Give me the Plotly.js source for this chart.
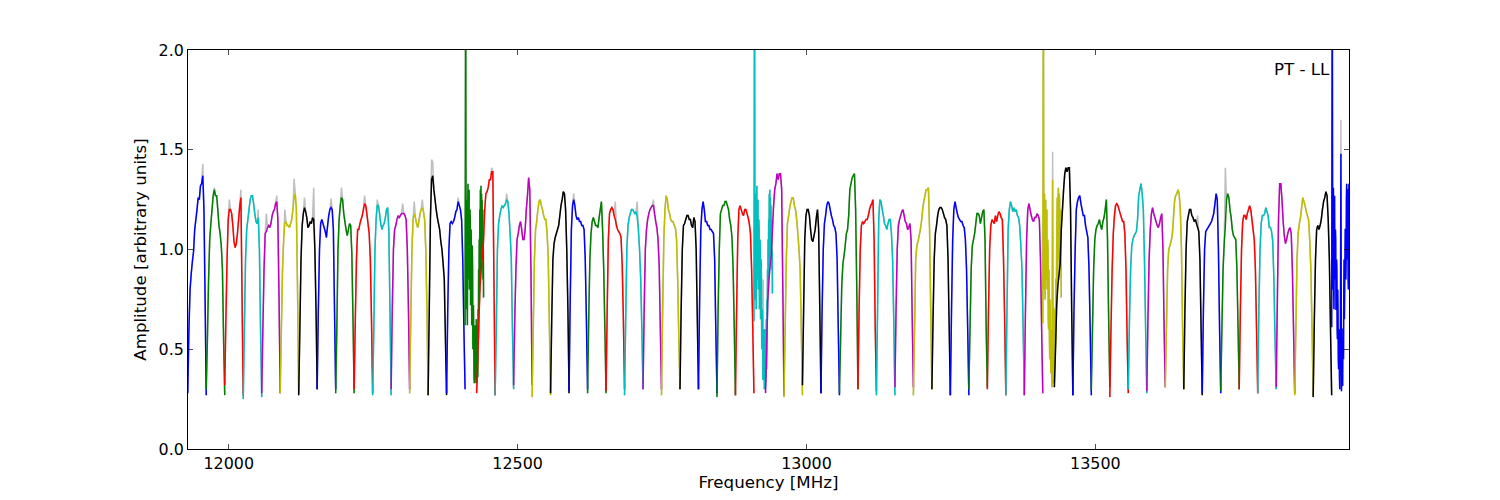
<!DOCTYPE html>
<html><head><meta charset="utf-8">
<script src="https://cdn.plot.ly/plotly-3.0.1.min.js"></script>
<style>html,body{margin:0;padding:0;background:#fff}</style></head>
<body><div id="chart" style="width:1500px;height:500px"></div>
<script>
const channelStarts=[11929,11961,11993,12025,12057,12089,12121,12153,12185,12217,12249,12281,12313,12345,12377,12409,
12429,12461,12493,12525,12557,12589,12621,12653,12685,12717,12749,12781,12813,12845,12877,12909,
12929,12961,12993,13025,13057,13089,13121,13153,13185,13217,13249,13281,13313,13345,13377,13409,
13429,13461,13493,13525,13557,13589,13621,13653,13685,13717,13749,13781,13813,13845,13877,13909];
const normalOffsets=[0,2,4,6,8,10,12,14,16,18,20,22,24,26,28,30,32];
const birdieOffsets=[0,.5,1,1.5,2,2.5,3,3.5,4,4.5,5,5.5,6,6.5,7,7.5,8,8.5,9,9.5,10,10.5,11,11.5,12,12.5,13,13.5,14,14.5,15,15.5,16,16.5,17,17.5,18,18.5,19,19.5,20,20.5,21,21.5,22,22.5,23,23.5,24,24.5,25,25.5,26,26.5,27,27.5,28,28.5,29,29.5,30,30.5,31,31.5,32];
const ch00=[.28,.6,.8,.88,.94,.99,1.1,1.15,1.2,1.26,1.25,1.32,1.33,1.37,1.2,.75,.27];
const ch01=[.3,.55,.85,1.05,1.13,1.2,1.27,1.3,1.27,1.27,1.2,1.12,1.08,1.02,.9,.55,.27];
const ch02=[.32,.65,.95,1.15,1.2,1.2,1.18,1.12,1.04,1.01,1.03,1.08,1.15,1.22,1.26,.75,.27];
const ch03=[.25,.6,.95,1.1,1.15,1.2,1.25,1.27,1.27,1.23,1.18,1.14,1.13,1.16,1.0,.6,.26];
const ch04=[.28,.6,.9,1.08,1.09,1.11,1.12,1.11,1.13,1.17,1.19,1.2,1.23,1.24,1.15,.75,.28];
const ch05=[.28,.6,.9,1.05,1.13,1.14,1.12,1.12,1.11,1.13,1.15,1.2,1.26,1.28,1.2,.8,.28];
const ch06=[.27,.6,.95,1.12,1.18,1.21,1.19,1.16,1.11,1.12,1.14,1.13,1.16,1.15,1.0,.7,.3];
const ch07=[.3,.7,1.0,1.13,1.15,1.13,1.11,1.09,1.06,1.12,1.17,1.2,1.21,1.2,1.1,.7,.3];
const ch08=[.28,.6,1.0,1.15,1.22,1.26,1.25,1.18,1.14,1.1,1.07,1.1,1.13,1.12,.98,.65,.28];
const ch09=[.3,.65,.95,1.1,1.1,1.13,1.15,1.17,1.2,1.23,1.22,1.18,1.13,1.08,.95,.65,.28];
const ch10=[.27,.6,1.0,1.15,1.22,1.22,1.18,1.13,1.1,1.12,1.13,1.16,1.2,1.21,1.1,.7,.27];
const ch11=[.3,.7,1.0,1.1,1.12,1.15,1.17,1.16,1.17,1.18,1.18,1.18,1.17,1.15,1.0,.7,.3];
const ch12=[.28,.65,1.0,1.15,1.18,1.16,1.13,1.11,1.14,1.18,1.2,1.21,1.19,1.15,1.0,.7,.27];
const ch13=[.27,.7,1.15,1.35,1.37,1.3,1.25,1.2,1.16,1.13,1.1,1.04,1.0,.93,.85,.55,.27];
const ch14=[.28,.7,1.0,1.13,1.14,1.13,1.14,1.16,1.19,1.2,1.24,1.22,1.2,1.15,.95,.6,.3];
const ch15=[.62,1.5,2.6,1.4,.7,1.1,1.25,.75,.62,1.2,1.33,.85,.9,1.25,1.3,.8,1.0,1.2,1.15,.72,.85,1.1,1.0,.62,.75,1.02,.9,.5,.6,.72,.55,.36,.33,.6,.4,.62,.35,.58,.33,.65,.33,.55,.35,.62,.36,.7,.55,.9,.75,1.05,.8,1.2,.85,1.3,.9,1.32,.95,1.28,1.0,1.25,.95,1.2,.85,1.05,.76];
const ch16=[.28,.45,.65,.82,.9,.97,1.05,1.2,1.28,1.29,1.31,1.35,1.35,1.39,1.39,.85,.27];
const ch17=[.27,.6,1.0,1.13,1.17,1.2,1.22,1.21,1.22,1.23,1.25,1.24,1.18,1.08,.95,.6,.3];
const ch18=[.32,.65,.9,1.05,1.08,1.12,1.14,1.1,1.05,1.05,1.1,1.2,1.27,1.36,1.3,.9,.32];
const ch19=[.26,.6,.95,1.1,1.14,1.2,1.24,1.25,1.22,1.2,1.17,1.15,1.15,1.08,.95,.6,.27];
const ch20=[.28,.65,.95,1.03,1.06,1.08,1.1,1.12,1.17,1.22,1.25,1.29,1.28,1.2,1.0,.7,.28];
const ch21=[.29,.75,1.1,1.22,1.25,1.22,1.17,1.15,1.16,1.14,1.14,1.12,1.12,1.1,.95,.65,.3];
const ch22=[.28,.65,.95,1.08,1.14,1.16,1.14,1.12,1.12,1.11,1.16,1.2,1.24,1.1,.9,.6,.28];
const ch23=[.29,.7,1.05,1.18,1.2,1.21,1.2,1.17,1.15,1.12,1.1,1.09,1.08,1.06,.92,.65,.3];
const ch24=[.27,.65,1.0,1.12,1.16,1.18,1.2,1.2,1.19,1.18,1.19,1.16,1.1,1.0,.85,.6,.3];
const ch25=[.3,.7,1.0,1.1,1.15,1.18,1.2,1.21,1.22,1.22,1.18,1.14,1.11,1.05,.92,.6,.3];
const ch26=[.27,.7,1.05,1.2,1.27,1.25,1.2,1.18,1.15,1.14,1.14,1.12,1.11,1.05,.85,.55,.3];
const ch27=[.3,.7,1.0,1.12,1.13,1.15,1.17,1.17,1.15,1.15,1.12,1.11,1.16,1.14,1.0,.65,.3];
const ch28=[.3,.75,1.1,1.2,1.24,1.2,1.14,1.14,1.12,1.12,1.1,1.1,1.09,1.08,.95,.6,.28];
const ch29=[.26,.7,1.0,1.18,1.2,1.22,1.22,1.24,1.24,1.22,1.2,1.15,1.12,1.06,.9,.6,.27];
const ch30=[.27,.7,1.05,1.2,1.22,1.2,1.18,1.17,1.2,1.2,1.18,1.16,1.13,1.08,.9,.6,.28];
const ch31=[.64,1.5,2.6,1.4,.75,1.1,1.28,.8,.7,1.2,1.32,.85,.9,1.2,1.25,.8,.9,1.15,1.1,.7,.75,1.05,1.0,.65,.7,.95,.85,.5,.55,.7,.65,.35,.35,.6,.4,.6,.3,.55,.32,.6,.32,.55,.36,.65,.4,.75,.6,.9,.75,1.05,.85,1.15,.85,1.28,.95,1.3,1.0,1.26,1.0,1.22,.95,1.15,.9,1.0,.78];
const ch32=[.28,.5,.75,.85,.92,.97,1.1,1.22,1.3,1.33,1.38,1.35,1.38,1.38,1.3,.8,.27];
const ch33=[.26,.6,.95,1.13,1.17,1.21,1.24,1.26,1.26,1.22,1.2,1.15,1.08,1.0,.9,.6,.27];
const ch34=[.32,.7,1.05,1.17,1.2,1.2,1.17,1.1,1.05,1.04,1.07,1.1,1.16,1.2,1.1,.7,.28];
const ch35=[.28,.7,1.0,1.13,1.17,1.22,1.24,1.23,1.2,1.17,1.15,1.12,1.11,1.08,.95,.6,.27];
const ch36=[.28,.55,.82,.93,.97,1.02,1.08,1.1,1.17,1.3,1.33,1.36,1.37,1.38,1.2,.8,.3];
const ch37=[.3,.7,1.0,1.12,1.14,1.13,1.14,1.15,1.15,1.17,1.2,1.22,1.23,1.25,1.05,.6,.29];
const ch38=[.27,.7,1.15,1.25,1.24,1.2,1.17,1.13,1.12,1.1,1.13,1.15,1.15,1.08,.95,.65,.27];
const ch39=[.31,.7,1.0,1.12,1.15,1.17,1.19,1.2,1.17,1.14,1.13,1.1,1.11,1.13,1.05,.65,.31];
const ch40=[.27,.6,.95,1.02,1.04,1.07,1.1,1.14,1.2,1.24,1.27,1.3,1.3,1.31,1.1,.7,.3];
const ch41=[.3,.65,.95,1.08,1.12,1.17,1.2,1.21,1.21,1.2,1.18,1.16,1.15,1.12,.95,.6,.27];
const ch42=[.27,.7,1.05,1.2,1.24,1.21,1.18,1.16,1.15,1.14,1.14,1.12,1.11,1.05,.9,.6,.27];
const ch43=[.3,.6,.9,1.02,1.05,1.08,1.13,1.18,1.18,1.17,1.13,1.16,1.19,1.2,1.05,.6,.31];
const ch44=[.3,.7,1.0,1.12,1.15,1.14,1.13,1.17,1.14,1.17,1.19,1.18,1.16,1.15,.95,.65,.27];
const ch45=[.27,.7,1.1,1.2,1.24,1.22,1.19,1.21,1.19,1.2,1.17,1.16,1.12,1.02,.9,.6,.27];
const ch46=[.27,.7,1.05,1.2,1.23,1.2,1.17,1.15,1.14,1.16,1.16,1.18,1.17,1.15,.95,.6,.28];
const ch47=[.63,1.5,2.6,1.4,.8,1.1,1.28,.85,.75,1.2,1.25,.85,.9,1.15,1.2,.8,.85,1.05,1.0,.65,.6,.9,.75,.55,.45,.75,.6,.45,.38,.6,.55,.36,.31,.9,1.35,.8,.33,.6,.55,.36,.4,.7,.7,.5,.55,.85,.85,.7,1.0,1.15,1.26,.85,.9,1.25,1.31,.95,1.0,1.28,1.25,.9,.9,1.2,1.15,.95,.76];
const ch48=[.31,.5,.72,.82,.87,.93,1.1,1.2,1.3,1.38,1.41,1.39,1.41,1.41,1.2,.7,.27];
const ch49=[.27,.7,1.0,1.2,1.24,1.26,1.27,1.23,1.2,1.17,1.17,1.12,1.09,1.06,.9,.6,.27];
const ch50=[.3,.6,.9,1.05,1.1,1.12,1.13,1.15,1.12,1.1,1.14,1.16,1.2,1.25,1.05,.65,.31];
const ch51=[.26,.6,.9,1.08,1.17,1.22,1.23,1.22,1.2,1.18,1.16,1.14,1.14,1.08,.9,.55,.28];
const ch52=[.3,.65,.9,1.02,1.05,1.07,1.08,1.09,1.15,1.27,1.3,1.33,1.28,1.2,.95,.6,.28];
const ch53=[.29,.65,.95,1.1,1.18,1.21,1.18,1.16,1.14,1.12,1.11,1.13,1.16,1.18,1.0,.6,.31];
const ch54=[.31,.6,.9,1.0,1.02,1.04,1.07,1.15,1.24,1.27,1.28,1.3,1.28,1.2,1.0,.6,.3];
const ch55=[.3,.7,1.0,1.14,1.17,1.2,1.2,1.17,1.16,1.14,1.15,1.13,1.11,1.09,.95,.6,.27];
const ch56=[.28,.7,1.0,1.09,1.1,1.11,1.12,1.13,1.14,1.16,1.18,1.23,1.28,1.25,1.0,.6,.28];
const ch57=[.29,.6,.9,1.03,1.12,1.25,1.28,1.26,1.2,1.16,1.1,1.07,1.06,1.05,.9,.6,.3];
const ch58=[.3,.7,1.0,1.14,1.17,1.17,1.15,1.18,1.2,1.22,1.2,1.15,1.1,1.05,.9,.6,.28];
const ch59=[.28,.7,1.0,1.13,1.17,1.17,1.18,1.21,1.19,1.17,1.11,1.11,1.09,1.04,.85,.55,.3];
const ch60=[.31,.75,1.15,1.33,1.33,1.25,1.14,1.07,1.03,1.05,1.08,1.1,1.11,1.08,.9,.6,.28];
const ch61=[.27,.6,.95,1.08,1.13,1.16,1.21,1.26,1.24,1.22,1.19,1.17,1.15,1.05,.9,.6,.27];
const ch62=[.26,.65,.95,1.1,1.12,1.1,1.12,1.15,1.2,1.24,1.26,1.29,1.27,1.15,.95,.6,.27];
const ch63=[.61,1.5,2.6,1.4,.8,1.15,1.31,.8,.7,1.2,1.27,.85,.9,1.1,1.05,.7,.7,.95,.9,.6,.55,.8,.7,.45,.4,.6,.55,.36,.3,.5,.45,.9,1.48,.85,.29,.55,.5,.32,.32,.6,.6,.45,.8,.95,.65,.8,.95,1.1,1.1,.85,.95,1.25,1.33,.95,1.0,1.3,1.3,.85,.8,1.25,1.33,1.1,1.0,.85,.8];
const channels=[ch00,ch01,ch02,ch03,ch04,ch05,ch06,ch07,ch08,ch09,ch10,ch11,ch12,ch13,ch14,ch15,ch16,ch17,ch18,ch19,ch20,ch21,ch22,ch23,ch24,ch25,ch26,ch27,ch28,ch29,ch30,ch31,ch32,ch33,ch34,ch35,ch36,ch37,ch38,ch39,ch40,ch41,ch42,ch43,ch44,ch45,ch46,ch47,ch48,ch49,ch50,ch51,ch52,ch53,ch54,ch55,ch56,ch57,ch58,ch59,ch60,ch61,ch62,ch63];
// raw (grey) trace: same as the channel except at these samples
const greyChannel=[0,1,2,2,3,4,4,5,5,6,6,7,8,9,10,11,12,12,13,13,14,16,17,21,23,24,25,31,47,55,56,57,63];
const greyIndex=[13,7,4,14,13,4,13,4,12,5,13,12,5,9,4,10,4,11,3,4,10,13,10,4,8,11,9,32,34,12,10,4,32];
const greyValue=[1.43,1.31,1.25,1.3,1.2,1.18,1.27,1.2,1.355,1.26,1.31,1.255,1.31,1.27,1.25,1.23,1.24,1.25,1.45,1.44,1.26,1.41,1.28,1.28,1.24,1.24,1.25,.85,1.49,1.17,1.2,1.41,1.65];
const palette=['#0000ff','#008000','#ff0000','#00bfbf','#bf00bf','#bfbf00','#000000'];

const traces=[];
const gx=[],gy=[];
channels.forEach((vals,c)=>{
  const off=vals.length===birdieOffsets.length?birdieOffsets:normalOffsets;
  const g=vals.slice();
  greyChannel.forEach((ch,i)=>{if(ch===c)g[greyIndex[i]]=greyValue[i];});
  off.forEach((o,i)=>{gx.push(channelStarts[c]+o);gy.push(g[i]);});
  gx.push(null);gy.push(null);
});
traces.push({x:gx,y:gy,mode:'lines',line:{color:'#bfbfbf',width:1.5,simplify:false},hoverinfo:'skip',showlegend:false});
channels.forEach((vals,c)=>{
  const off=vals.length===birdieOffsets.length?birdieOffsets:normalOffsets;
  traces.push({x:off.map(o=>channelStarts[c]+o),y:vals,mode:'lines',
    line:{color:palette[c%7],width:1.5,simplify:false},hoverinfo:'skip',showlegend:false});
});
const titleFont={family:'"DejaVu Sans",sans-serif',size:16.67,color:'#000'};
const tickFont={family:'"DejaVu Sans",sans-serif',size:15.9,color:'#000'};
const axisBase={showgrid:false,zeroline:false,showline:true,linecolor:'#000',linewidth:1,mirror:'ticks',
  ticks:'inside',ticklen:5,tickwidth:0.7,tickcolor:'#000',tickfont:tickFont};
const layout={width:1500,height:500,paper_bgcolor:'#fff',plot_bgcolor:'#fff',showlegend:false,
  margin:{l:188,r:151,t:50,b:51,pad:0},font:titleFont,
  xaxis:Object.assign({},axisBase,{range:[11929.4,13939],tickmode:'array',tickvals:[12000,12500,13000,13500],
    ticktext:['12000','12500','13000','13500'],title:{text:'Frequency [MHz]',font:titleFont,standoff:3}}),
  yaxis:Object.assign({},axisBase,{range:[0,2],tickmode:'array',tickvals:[0,.5,1,1.5,2],ticklabelshift:-1.5,
    ticktext:['0.0','0.5','1.0','1.5','2.0'],title:{text:'Amplitude [arbitrary units]',font:titleFont,standoff:7}}),
  annotations:[{text:'PT - LL',xref:'paper',yref:'paper',x:0.9845,y:0.95,xanchor:'right',yanchor:'middle',
    showarrow:false,font:titleFont,xshift:0,borderpad:0}]};
Plotly.newPlot('chart',traces,layout,{displayModeBar:false,staticPlot:true});
</script></body></html>
